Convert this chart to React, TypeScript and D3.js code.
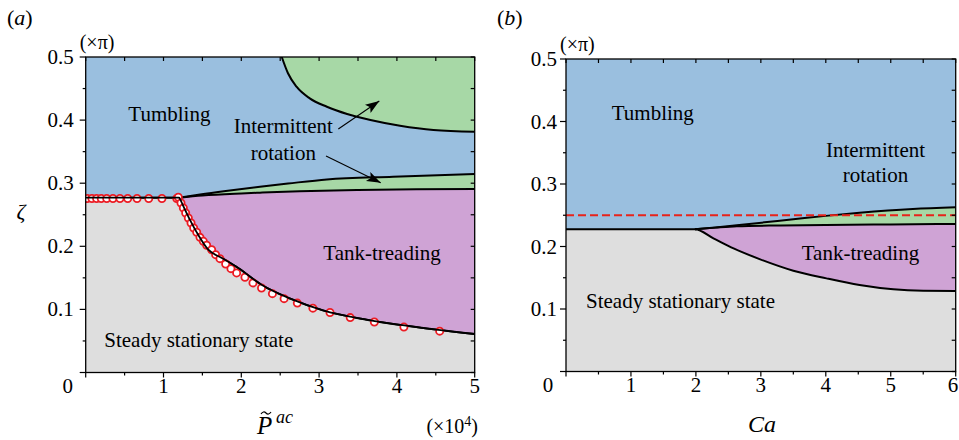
import { useEffect, useRef } from 'react'
import * as d3 from 'd3'

type Pt = [number, number]

// ---- panel (a): x = P~ac (x10^4), y = zeta (x pi)
const aSteadyEdge: Pt[] = [
  [0, 0.277], [1.2, 0.277], [1.212, 0.275], [1.25, 0.265], [1.34, 0.242], [1.447, 0.218],
  [1.576, 0.1946], [1.75, 0.1815], [1.96, 0.1656], [2.26, 0.139], [2.63, 0.117],
  [3.05, 0.0985], [3.61, 0.0837], [4.25, 0.072], [5, 0.061],
]
const aTankTop: Pt[] = [
  [1.2, 0.277], [1.5, 0.2805], [2.0, 0.2838], [2.24, 0.285], [2.75, 0.2873],
  [3.5, 0.2893], [4.25, 0.2905], [5, 0.291],
]
const aIntermTop: Pt[] = [
  [1.2, 0.277], [1.47, 0.2822], [1.8, 0.2878], [2.24, 0.2945], [2.6, 0.2995],
  [3.1, 0.306], [3.95, 0.3103], [5, 0.3145],
]
const aUpperGreen: Pt[] = [
  [2.52, 0.5], [2.6, 0.4742], [2.71, 0.4529], [2.88, 0.4345], [3.1, 0.4212],
  [3.36, 0.4097], [3.66, 0.4002], [4.04, 0.3911], [4.47, 0.3843], [5, 0.3816],
]
const aCircles: Pt[] = [
  [0.02, 0.2757], [0.08, 0.2757], [0.14, 0.2757], [0.2, 0.2757], [0.27, 0.2757],
  [0.35, 0.2757], [0.44, 0.2757], [0.54, 0.2757], [0.66, 0.2757], [0.81, 0.2757],
  [0.98, 0.2757], [1.17, 0.2757],
  [1.19, 0.2777], [1.225, 0.2686], [1.255, 0.2607], [1.285, 0.2528], [1.319, 0.2448],
  [1.354, 0.2369], [1.388, 0.229], [1.427, 0.2222], [1.469, 0.2142], [1.512, 0.2079],
  [1.555, 0.2016], [1.619, 0.1946], [1.67, 0.1867], [1.726, 0.1804], [1.799, 0.172],
  [1.867, 0.1646], [1.94, 0.1578], [2.047, 0.1509], [2.15, 0.142], [2.26, 0.134],
  [2.4, 0.125], [2.55, 0.117], [2.72, 0.11], [2.92, 0.102], [3.14, 0.095],
  [3.4, 0.087], [3.71, 0.08], [4.09, 0.072], [4.55, 0.0655],
]
const aXTickLabels = ['1', '2', '3', '4', '5']

// ---- panel (b): x = Ca, y = zeta (x pi)
const bSteadyEdge: Pt[] = [
  [0, 0.2275], [1.985, 0.2275], [2.27, 0.213], [2.58, 0.197], [2.99, 0.1795],
  [3.5, 0.1613], [4.01, 0.149], [4.52, 0.1384], [5.04, 0.1315], [5.5, 0.1292], [6, 0.1288],
]
const bTankTop: Pt[] = [
  [1.985, 0.2275], [2.3, 0.2302], [2.63, 0.2325], [3.3, 0.2337], [4, 0.2345], [5, 0.2353], [6, 0.236],
]
const bIntermTop: Pt[] = [
  [1.985, 0.2275], [2.3, 0.2305], [2.63, 0.234], [3.5, 0.2435], [4.0, 0.249],
  [4.52, 0.254], [5.34, 0.26], [6, 0.2627],
]
const bDashed = 0.25
const bXTickLabels = ['1', '2', '3', '4', '5', '6']

const yTickLabels = ['0.1', '0.2', '0.3', '0.4', '0.5']

const BLUE = '#9abfdf'
const GREEN = '#a7d8a6'
const PURPLE = '#cfa3d5'
const GREY = '#dedede'
const FONT = '"Liberation Serif", "Times New Roman", serif'
const W = 959

function drawPanel(svg: any, cfg: any) {
  const x = d3.scaleLinear().domain([0, cfg.xMax]).range([cfg.left, cfg.right])
  const y = d3.scaleLinear().domain([0, 0.5]).range([cfg.bottom, cfg.top])
  const g = svg.append('g')

  const clipId = `clip-${cfg.id}`
  svg.select('defs').append('clipPath').attr('id', clipId)
    .append('rect')
    .attr('x', cfg.left).attr('y', cfg.top)
    .attr('width', cfg.right - cfg.left).attr('height', cfg.bottom - cfg.top)

  const plot = g.append('g').attr('clip-path', `url(#${clipId})`)
  plot.append('rect')
    .attr('x', cfg.left).attr('y', cfg.top)
    .attr('width', cfg.right - cfg.left).attr('height', cfg.bottom - cfg.top)
    .attr('fill', BLUE)

  const curve = d3.curveMonotoneX
  const under = d3.area<Pt>().x((d) => x(d[0])).y0(y(0)).y1((d) => y(d[1])).curve(curve)
  const over = d3.area<Pt>().x((d) => x(d[0])).y0(y(0.5)).y1((d) => y(d[1])).curve(curve)
  const line = d3.line<Pt>().x((d) => x(d[0])).y((d) => y(d[1])).curve(curve)

  if (cfg.upperGreen) plot.append('path').attr('d', over(cfg.upperGreen)).attr('fill', GREEN)
  plot.append('path').attr('d', under(cfg.intermTop)).attr('fill', GREEN)
  plot.append('path').attr('d', under(cfg.tankTop)).attr('fill', PURPLE)
  plot.append('path').attr('d', under(cfg.steadyEdge)).attr('fill', GREY)

  const curves = [cfg.steadyEdge, cfg.tankTop, cfg.intermTop]
  if (cfg.upperGreen) curves.push(cfg.upperGreen)
  curves.forEach((c: Pt[]) => {
    plot.append('path').attr('d', line(c)).attr('fill', 'none')
      .attr('stroke', '#000').attr('stroke-width', 2)
  })

  if (cfg.dashed != null) {
    plot.append('line')
      .attr('x1', x(0)).attr('x2', x(cfg.xMax))
      .attr('y1', y(cfg.dashed)).attr('y2', y(cfg.dashed))
      .attr('stroke', '#e8231b').attr('stroke-width', 2)
      .attr('stroke-dasharray', '8,4')
  }

  if (cfg.circles) {
    plot.selectAll('circle.sim').data(cfg.circles).join('circle')
      .attr('class', 'sim')
      .attr('cx', (d: Pt) => x(d[0])).attr('cy', (d: Pt) => y(d[1]))
      .attr('r', 3.6)
      .attr('fill', '#fff').attr('stroke', '#ec1c24').attr('stroke-width', 1.8)
    // black guide line drawn again on top of circles
    plot.append('path').attr('d', line(cfg.steadyEdge)).attr('fill', 'none')
      .attr('stroke', '#000').attr('stroke-width', 1.8)
  }

  // frame
  g.append('rect')
    .attr('x', cfg.left).attr('y', cfg.top)
    .attr('width', cfg.right - cfg.left).attr('height', cfg.bottom - cfg.top)
    .attr('fill', 'none').attr('stroke', '#000').attr('stroke-width', 1.3)

  // ticks
  const ticks = g.append('g').attr('stroke', '#000').attr('stroke-width', 1.2)
  x.ticks(cfg.xMax * 2).forEach((t: number) => {
    const major = Math.abs(t - Math.round(t)) < 1e-6
    ticks.append('line').attr('x1', x(t)).attr('x2', x(t))
      .attr('y1', cfg.bottom).attr('y2', cfg.bottom + (major ? 5 : 3))
    ticks.append('line').attr('x1', x(t)).attr('x2', x(t))
      .attr('y1', cfg.top).attr('y2', cfg.top + 4)
  })
  y.ticks(10).forEach((t: number) => {
    const major = Math.abs(t * 10 - Math.round(t * 10)) < 1e-6
    ticks.append('line').attr('y1', y(t)).attr('y2', y(t))
      .attr('x1', cfg.left).attr('x2', cfg.left - (major ? 6 : 3))
    ticks.append('line').attr('y1', y(t)).attr('y2', y(t))
      .attr('x1', cfg.right).attr('x2', cfg.right - 4)
  })

  const txt = g.append('g').attr('font-family', FONT).attr('fill', '#000')
  cfg.xTickLabels.forEach((s: string) => {
    txt.append('text').attr('x', Math.min(x(+s), W - 6)).attr('y', cfg.bottom + 20)
      .attr('text-anchor', 'middle').attr('font-size', 21).text(s)
  })
  txt.append('text').attr('x', cfg.left - 18).attr('y', cfg.bottom + 20)
    .attr('text-anchor', 'middle').attr('font-size', 21).text('0')
  yTickLabels.forEach((s: string) => {
    txt.append('text').attr('x', cfg.left - cfg.yLabelGap).attr('y', y(+s) + 7)
      .attr('text-anchor', 'end').attr('font-size', 21).text(s)
  })
  txt.append('text').attr('x', cfg.left - 6).attr('y', cfg.top - 8)
    .attr('font-size', 20).text('(×π)')
  txt.append('text').attr('x', cfg.panelX).attr('y', 25)
    .attr('font-size', 22).html('(<tspan font-style="italic">' + cfg.panel + '</tspan>)')

  cfg.labels.forEach((l: any) => {
    txt.append('text').attr('x', x(l.x)).attr('y', y(l.y))
      .attr('text-anchor', l.anchor || 'start').attr('font-size', 21).text(l.text)
  })

  ;(cfg.arrows || []).forEach((a: any) => {
    g.append('line')
      .attr('x1', x(a.from[0])).attr('y1', y(a.from[1]))
      .attr('x2', x(a.to[0])).attr('y2', y(a.to[1]))
      .attr('stroke', '#000').attr('stroke-width', 1.1)
      .attr('marker-end', 'url(#arrowHead)')
  })

  return { x, y }
}

function PhaseDiagrams() {
  const containerRef = useRef<HTMLDivElement>(null)

  useEffect(() => {
    const container = containerRef.current
    const svg = d3.select(container).append('svg')
      .attr('width', W).attr('height', 440)
      .style('position', 'absolute').style('left', 0).style('top', 0)
      .style('background', '#fff')
    const defs = svg.append('defs')
    defs.append('marker').attr('id', 'arrowHead')
      .attr('markerUnits', 'userSpaceOnUse')
      .attr('markerWidth', 16).attr('markerHeight', 12)
      .attr('refX', 14).attr('refY', 5).attr('orient', 'auto')
      .append('path').attr('d', 'M0,0 L14,5 L0,10 L3,5 Z').attr('fill', '#000')

    drawPanel(svg, {
      id: 'a', panel: 'a', panelX: 7,
      left: 85.7, right: 474.7, top: 57, bottom: 372.5, xMax: 5, yLabelGap: 12,
      steadyEdge: aSteadyEdge, tankTop: aTankTop, intermTop: aIntermTop,
      upperGreen: aUpperGreen, circles: aCircles, xTickLabels: aXTickLabels,
      labels: [
        { text: 'Tumbling', x: 0.548, y: 0.399 },
        { text: 'Intermittent', x: 2.54, y: 0.379, anchor: 'middle' },
        { text: 'rotation', x: 2.54, y: 0.3368, anchor: 'middle' },
        { text: 'Tank-treading', x: 3.054, y: 0.1783 },
        { text: 'Steady stationary state', x: 0.239, y: 0.0409 },
      ],
      arrows: [
        { from: [3.247, 0.386], to: [3.774, 0.4303] },
        { from: [3.089, 0.343], to: [3.792, 0.3008] },
      ],
    })

    drawPanel(svg, {
      id: 'b', panel: 'b', panelX: 497,
      left: 566, right: 955.7, top: 59, bottom: 371.5, xMax: 6, yLabelGap: 9,
      steadyEdge: bSteadyEdge, tankTop: bTankTop, intermTop: bIntermTop,
      dashed: bDashed, xTickLabels: bXTickLabels,
      labels: [
        { text: 'Tumbling', x: 0.704, y: 0.4024 },
        { text: 'Intermittent', x: 4.765, y: 0.3437, anchor: 'middle' },
        { text: 'rotation', x: 4.765, y: 0.3037, anchor: 'middle' },
        { text: 'Tank-treading', x: 3.629, y: 0.1784 },
        { text: 'Steady stationary state', x: 0.308, y: 0.1021 },
      ],
    })

    // axis titles
    const t = svg.append('g').attr('font-family', FONT).attr('fill', '#000')
    t.append('text').attr('x', 21).attr('y', 219).attr('text-anchor', 'middle')
      .attr('font-size', 22).attr('font-style', 'italic').text('ζ')
    t.append('text').attr('x', 257).attr('y', 434)
      .attr('font-size', 25).attr('font-style', 'italic').text('P')
    // tilde accent over P
    t.append('path').attr('d', 'M261,414 q2.5,-3.5 5,-1 t5,-1')
      .attr('fill', 'none').attr('stroke', '#000').attr('stroke-width', 1.2)
    t.append('text').attr('x', 276).attr('y', 423)
      .attr('font-size', 18).attr('font-style', 'italic').text('ac')
    t.append('text').attr('x', 478).attr('y', 433).attr('text-anchor', 'end')
      .attr('font-size', 20).html('(×10<tspan dy="-7" font-size="14">4</tspan><tspan dy="7">)</tspan>')
    t.append('text').attr('x', 762).attr('y', 432).attr('text-anchor', 'middle')
      .attr('font-size', 24).attr('font-style', 'italic').text('Ca')

    return () => {
      svg.remove()
    }
  }, [])

  return <div ref={containerRef} />
}

export default function App() {
  return <PhaseDiagrams />
}
